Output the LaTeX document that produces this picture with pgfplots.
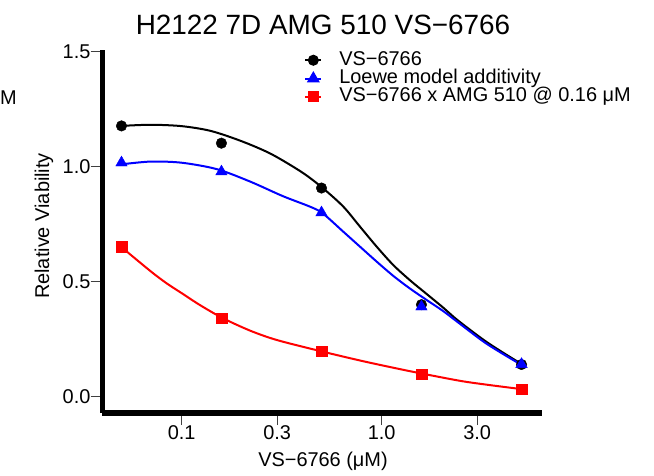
\documentclass[border=0pt]{standalone}
\usepackage{pgfplots}
\pgfplotsset{compat=1.18}
\usepackage{fontspec}
\setmainfont{Liberation Sans}
\newcommand{\tkfont}{\fontsize{20}{24}\selectfont}
\begin{document}
\begin{tikzpicture}
\path[use as bounding box] (0bp,0bp) rectangle (654bp,476bp);
\begin{axis}[
  scale only axis,
  width=439.5bp, height=363bp,
  at={(102.5bp,63bp)}, anchor=south west,
  xmode=log,
  xmin=0.04018, xmax=6.33,
  ymin=-0.0709, ymax=1.507,
  axis x line*=bottom, axis y line*=left,
  axis line style={-, line width=5bp, black},
  xtick={0.1,0.3,1,3}, xticklabels={0.1,0.3,1.0,3.0},
  ytick={0,0.5,1,1.5}, yticklabels={0.0,0.5,1.0,1.5},
  xminorticks=false, yminorticks=false,
  tick align=outside,
  major tick length=12bp,
  tick style={black!75, line width=1bp},
  /pgf/number format/assume math mode=true,
  tick label style={font=\tkfont},
  xticklabel style={inner sep=0pt},
  yticklabel style={inner sep=0pt},
  clip=false,
  legend style={draw=none, fill=none, font=\tkfont,
    at={(axis description cs:0.452,1.003)}, anchor=north west,
    nodes={inner sep=0pt, text height=14bp, text depth=4.3bp},
    column sep=17bp, row sep=0pt},
  legend cell align=left,
  legend image code/.code={\draw[#1, mark repeat=2, mark phase=2] plot coordinates {(0bp,0bp) (8bp,0bp) (16bp,0bp)};},
]
% VS-6766 fitted curve
\addplot[black, line width=2bp, smooth, forget plot] coordinates {
(0.05,1.177) (0.07,1.182) (0.1,1.176) (0.14,1.155) (0.2,1.110) (0.28,1.055)
(0.4,0.975) (0.507,0.907) (0.643,0.826) (0.779,0.739) (0.944,0.652)
(1.143,0.572) (1.385,0.506) (1.68,0.446) (2.03,0.387) (2.4,0.332)
(3.22,0.248) (4.0,0.194) (5,0.142)};
\addplot[only marks, mark=*, mark size=5.3bp, black, forget plot] coordinates {
(0.05,1.177) (0.158,1.102) (0.5,0.907) (1.58,0.40) (5,0.14)};
% Loewe
\addplot[blue, line width=2bp, smooth, forget plot] coordinates {
(0.05,1.010) (0.07,1.022) (0.1,1.017) (0.15,0.989) (0.22,0.935) (0.32,0.872)
(0.438,0.826) (0.507,0.797) (0.643,0.717) (0.779,0.652) (0.944,0.587)
(1.143,0.525) (1.385,0.470) (1.68,0.420) (2.03,0.372) (2.4,0.324)
(3.22,0.240) (4.0,0.188) (5,0.138)};
\addplot[only marks, mark=triangle*, mark size=6.6bp, blue, forget plot] coordinates {
(0.05,1.017) (0.158,0.978) (0.5,0.80) (1.58,0.391) (5,0.141)};
% combination
\addplot[red, line width=2bp, smooth, forget plot] coordinates {
(0.05,0.650) (0.07,0.545) (0.084,0.493) (0.1,0.450) (0.123,0.399) (0.16,0.342)
(0.22,0.287) (0.3,0.246) (0.5,0.197) (0.8,0.155) (1.2,0.122) (1.6,0.100)
(2.5,0.068) (3.5,0.050) (5,0.033)};
\addplot[only marks, mark=square*, mark size=5.3bp, red, forget plot] coordinates {
(0.05,0.651) (0.158,0.342) (0.5,0.197) (1.58,0.097) (5,0.032)};
\addlegendimage{black, line width=2bp, mark=*, mark size=4.5bp}
\addlegendentry{VS−6766}
\addlegendimage{blue, line width=2bp, mark=triangle*, mark size=5.5bp}
\addlegendentry{Loewe model additivity}
\addlegendimage{red, line width=2bp, mark=square*, mark size=4.5bp}
\addlegendentry{VS−6766 x AMG 510 @ 0.16 μM}
\end{axis}
\node[font=\fontsize{28}{32}\selectfont, anchor=base, inner sep=0pt] at (323bp,441bp) {H2122 7D AMG 510 VS−6766};
\node[font=\tkfont, anchor=base, inner sep=0pt] at (323bp,10bp) {VS−6766 (μM)};
\node[font=\tkfont, anchor=base, inner sep=0pt, rotate=90] at (49bp,250bp) {Relative Viability};
\node[font=\tkfont, anchor=base west, inner sep=0pt] at (0bp,371bp) {M};
\end{tikzpicture}
\end{document}
